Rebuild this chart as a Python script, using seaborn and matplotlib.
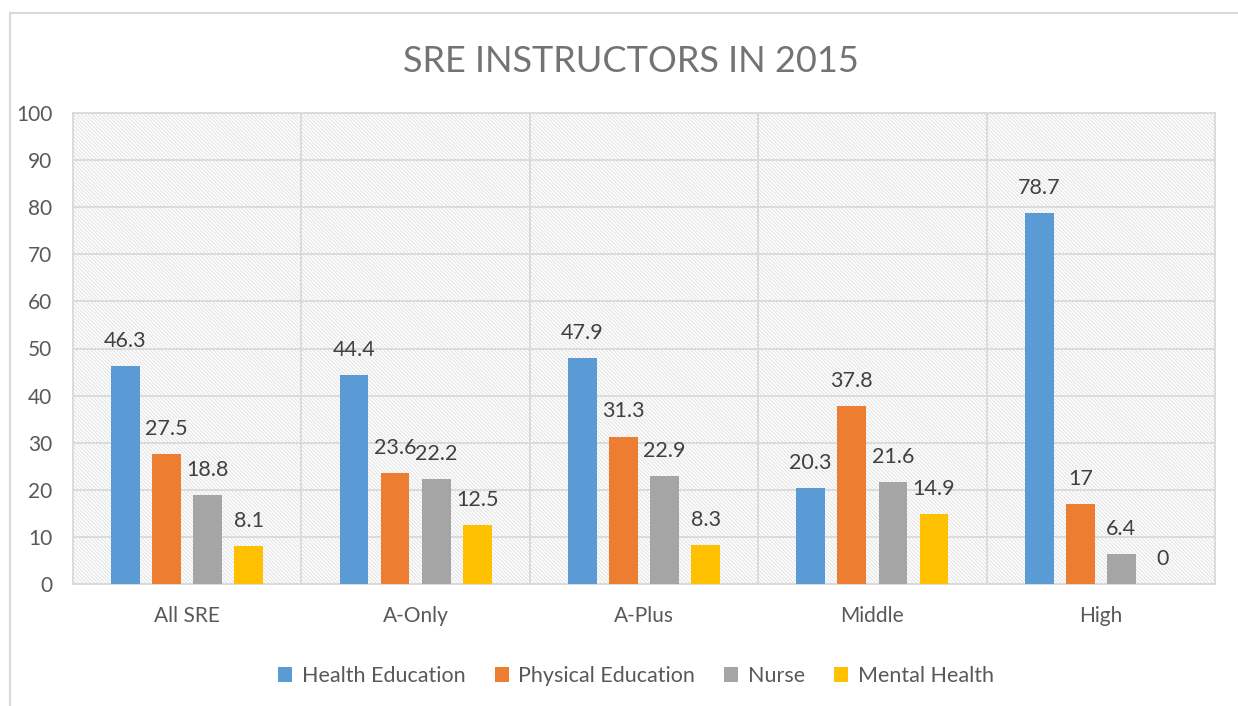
import matplotlib
matplotlib.use("Agg")
import matplotlib.pyplot as plt
from matplotlib.patches import Rectangle
import seaborn as sns
import pandas as pd

categories = ["All SRE", "A-Only", "A-Plus", "Middle", "High"]
series = ["Health Education", "Physical Education", "Nurse", "Mental Health"]
health_education = [46.3, 44.4, 47.9, 20.3, 78.7]
physical_education = [27.5, 23.6, 31.3, 37.8, 17]
nurse = [18.8, 22.2, 22.9, 21.6, 6.4]
mental_health = [8.1, 12.5, 8.3, 14.9, 0]
y_ticks = [0, 10, 20, 30, 40, 50, 60, 70, 80, 90, 100]
colors = ["#5B9BD5", "#ED7D31", "#A5A5A5", "#FFC000"]

rows = []
for s, vals in zip(series, [health_education, physical_education, nurse, mental_health]):
    for c, v in zip(categories, vals):
        rows.append({"category": c, "series": s, "value": v})
df = pd.DataFrame(rows)

sns.set_theme(style="white")
plt.rcParams["font.family"] = ["Lato", "DejaVu Sans"]
plt.rcParams["hatch.linewidth"] = 0.8

fig = plt.figure(figsize=(12.38, 7.06), dpi=100)
W, H = 1238, 706
ax = fig.add_axes([73 / W, 1 - 584 / H, (1215 - 73) / W, (584 - 113) / H])

# outer chart frame
fig.patches.append(Rectangle((10 / W, -0.05), 1.2, 1 - 13 / H + 0.05, transform=fig.transFigure,
                             fill=False, edgecolor="#d9d9d9", linewidth=1.5, zorder=0))

# hatched plot background
ax.add_patch(Rectangle((0, 0), 1, 1, transform=ax.transAxes, facecolor="white",
                       edgecolor="#e4e4e4", hatch="\\" * 9, linewidth=0, zorder=0))

sns.barplot(data=df, x="category", y="value", hue="series", palette=colors,
            width=0.72, gap=0.3, ax=ax, zorder=3, saturation=1, errorbar=None,
            linewidth=0, edgecolor="none")

for cont in ax.containers:
    ax.bar_label(cont, fmt="%g", padding=11, fontsize=15.5, color="#404040")

ax.set_ylim(0, 100)
ax.set_xlim(-0.5, len(categories) - 0.5)
ax.set_yticks(y_ticks)
ax.set_xlabel("")
ax.set_ylabel("")
for y in y_ticks:
    ax.axhline(y, color="#d9d9d9", linewidth=1.3, zorder=1)
for x in [0.5, 1.5, 2.5, 3.5]:
    ax.axvline(x, color="#d9d9d9", linewidth=1.3, zorder=1)
for sp in ax.spines.values():
    sp.set_color("#d9d9d9")
    sp.set_linewidth(1.3)
ax.tick_params(axis="both", length=0, labelsize=15, labelcolor="#595959")
ax.tick_params(axis="y", pad=15)
ax.tick_params(axis="x", pad=16)

fig.text(631 / W, 1 - 61 / H, "SRE INSTRUCTORS IN 2015", ha="center", va="center",
         fontsize=26, color="#737373", fontweight="normal")

handles, labels = ax.get_legend_handles_labels()
ax.legend(handles, labels, loc="center", bbox_to_anchor=(636 / W, 1 - 676 / H),
          bbox_transform=fig.transFigure, ncol=4, frameon=False, fontsize=15.5,
          labelcolor="#595959", handlelength=0.65, handleheight=0.65, handletextpad=0.45,
          columnspacing=1.35)

fig.savefig("out.png", dpi=100)
